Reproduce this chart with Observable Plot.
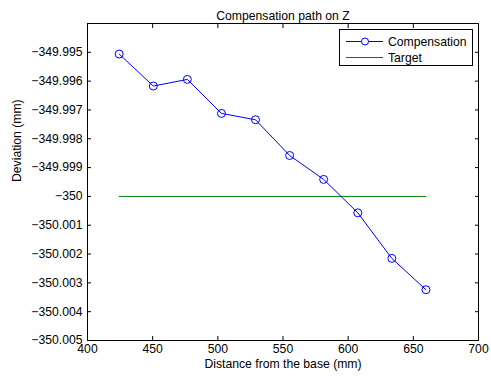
<!DOCTYPE html>
<html>
<head>
<meta charset="utf-8">
<script src="https://cdn.jsdelivr.net/npm/d3@7"></script>
<script src="https://cdn.jsdelivr.net/npm/@observablehq/plot@0.6"></script>
<style>
  html, body { margin: 0; padding: 0; background: #fff; }
  #wrap { position: relative; width: 491px; height: 376px; font-family: "Liberation Sans", Arial, sans-serif; }
  #legend { position: absolute; left: 339px; top: 29px; width: 134px; height: 37px; border: 1px solid #000; background: #fff; box-sizing: border-box; }
  #legend svg { display: block; }
</style>
</head>
<body>
<div id="wrap"></div>
<script>
const title = "Compensation path on Z";
const xLabel = "Distance from the base (mm)";
const yLabel = "Deviation (mm)";
const distance = [424.3, 450.5, 476.6, 502.8, 528.9, 555.1, 581.2, 607.4, 633.5, 659.7];
const compensation = [-349.99506, -349.99617, -349.99594, -349.99712, -349.99734, -349.99858, -349.99941, -350.00057, -350.00215, -350.00324];
const targetX = [424.3, 659.7];
const targetY = [-350, -350];
const xTicks = [400, 450, 500, 550, 600, 650, 700];
const yTicks = [-350.005, -350.004, -350.003, -350.002, -350.001, -350, -349.999, -349.998, -349.997, -349.996, -349.995];
const seriesNames = ["Compensation", "Target"];

const comp = distance.map((d, i) => ({x: d, y: compensation[i]}));
const targ = targetX.map((d, i) => ({x: d, y: targetY[i]}));
const fmtY = d => String(Math.round(d * 1000) / 1000).replace("-", "\u2212");
const FS = 12.2;

const chart = Plot.plot({
  width: 491,
  height: 376,
  marginLeft: 87,
  marginRight: 13,
  marginTop: 23,
  marginBottom: 36,
  style: {fontFamily: "'Liberation Sans', Arial, sans-serif", fontSize: FS + "px", color: "#000", background: "#fff", overflow: "visible"},
  x: {domain: [400, 700], ticks: xTicks},
  y: {domain: [-350.005, -349.994], ticks: yTicks},
  marks: [
    Plot.axisX({ticks: xTicks, tickSize: 0, tickPadding: 4, label: null, fontSize: FS}),
    Plot.axisX({ticks: xTicks, tickSize: -4, tickFormat: () => "", label: null}),
    Plot.axisX({ticks: xTicks, anchor: "top", tickSize: -4, tickFormat: () => "", label: null}),
    Plot.axisY({ticks: yTicks, tickSize: 0, tickPadding: 5, tickFormat: fmtY, label: null, fontSize: FS}),
    Plot.axisY({ticks: yTicks, tickSize: -4, tickFormat: () => "", label: null}),
    Plot.axisY({ticks: yTicks, anchor: "right", tickSize: -4, tickFormat: () => "", label: null}),
    Plot.line(targ, {x: "x", y: "y", stroke: "#008000", strokeWidth: 1}),
    Plot.line(comp, {x: "x", y: "y", stroke: "#0000ff", strokeWidth: 1}),
    Plot.dot(comp, {x: "x", y: "y", r: 4, stroke: "#0000ff", strokeWidth: 1, fill: "none"}),
    Plot.frame({stroke: "#000", strokeWidth: 1}),
    Plot.text([title], {frameAnchor: "top", dy: -12, fontSize: FS, fill: "#000"}),
    Plot.text([xLabel], {frameAnchor: "bottom", dy: 27, fontSize: FS, fill: "#000"}),
    Plot.text([yLabel], {frameAnchor: "left", dx: -70, rotate: -90, fontSize: FS, fill: "#000"})
  ]
});

const wrap = document.getElementById("wrap");
wrap.appendChild(chart);

const legend = document.createElement("div");
legend.id = "legend";
const ns = "http://www.w3.org/2000/svg";
const lsvg = document.createElementNS(ns, "svg");
lsvg.setAttribute("width", "132");
lsvg.setAttribute("height", "35");
const colors = ["#0000ff", "#008000"];
seriesNames.forEach((name, i) => {
  const cy = 11.5 + i * 16;
  const ln = document.createElementNS(ns, "line");
  ln.setAttribute("x1", 6); ln.setAttribute("x2", 43);
  ln.setAttribute("y1", cy); ln.setAttribute("y2", cy);
  ln.setAttribute("stroke", colors[i]);
  lsvg.appendChild(ln);
  if (i === 0) {
    const c = document.createElementNS(ns, "circle");
    c.setAttribute("cx", 25); c.setAttribute("cy", cy); c.setAttribute("r", 3.5);
    c.setAttribute("fill", "#fff"); c.setAttribute("stroke", colors[i]);
    lsvg.appendChild(c);
  }
  const t = document.createElementNS(ns, "text");
  t.setAttribute("x", 48); t.setAttribute("y", cy);
  t.setAttribute("dy", "0.35em");
  t.setAttribute("font-size", FS);
  t.setAttribute("font-family", "'Liberation Sans', Arial, sans-serif");
  t.textContent = name;
  lsvg.appendChild(t);
});
legend.appendChild(lsvg);
wrap.appendChild(legend);
</script>
</body>
</html>
